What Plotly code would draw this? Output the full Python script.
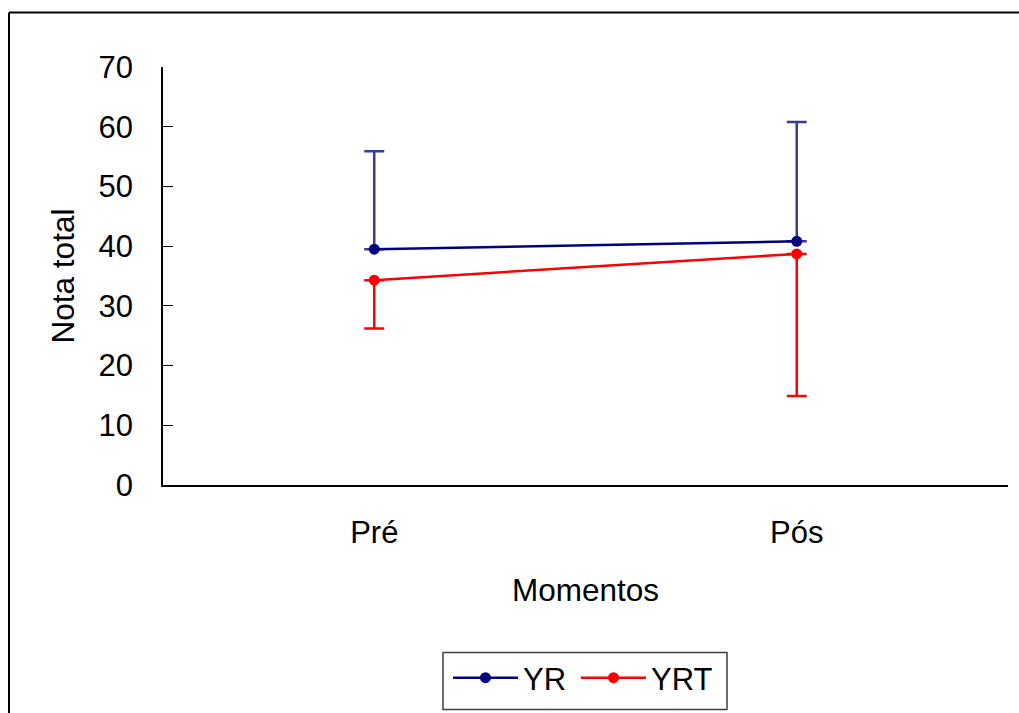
import plotly.graph_objects as go

# Data
momentos = ["Pré", "Pós"]
yr_mean = [39.5, 40.8]
yr_err_up = [16.4, 20.0]
yrt_mean = [34.3, 38.7]
yrt_err_down = [8.1, 23.8]
y_ticks = [0, 10, 20, 30, 40, 50, 60, 70]

FONT = "Liberation Sans, Arial, sans-serif"
FS = 31
FS_TITLE = 31.5

fig = go.Figure()

fig.add_trace(go.Scatter(
    x=momentos, y=yr_mean, name="YR", mode="lines+markers", legend="legend",
    line=dict(color="#000080", width=2.5),
    marker=dict(color="#000080", size=11),
    error_y=dict(type="data", array=yr_err_up, arrayminus=[0, 0], symmetric=False,
                 color="#3a3a9c", thickness=2.5, width=10),
))
fig.add_trace(go.Scatter(
    x=momentos, y=yrt_mean, name="YRT", mode="lines+markers", legend="legend2",
    line=dict(color="#FF0000", width=2.5),
    marker=dict(color="#FF0000", size=11),
    error_y=dict(type="data", array=[0, 0], arrayminus=yrt_err_down, symmetric=False,
                 color="#FF0000", thickness=2.5, width=10),
))

L, R, T, B = 163, 11, 67, 228
W, H = 1019, 713
pw, ph = W - L - R, H - T - B

def px(x):
    return (x - L) / pw

def py(y):
    return (H - B - y) / ph

# Outer chart frame (left and top edges)
frame = dict(type="line", xref="paper", yref="paper", line=dict(color="black", width=2))
fig.add_shape(**frame, x0=px(9), x1=px(1030), y0=py(12.5), y1=py(12.5))
fig.add_shape(**frame, x0=px(9), x1=px(9), y0=py(12.5), y1=py(730))

# Legend box outline
fig.add_shape(type="rect", xref="paper", yref="paper",
              x0=px(443), x1=px(727), y0=py(652.5), y1=py(709.5),
              line=dict(color="#404040", width=1.5), fillcolor="rgba(0,0,0,0)")

legend_style = dict(
    orientation="h", xanchor="left", y=py(678), yanchor="middle",
    borderwidth=0, bgcolor="rgba(0,0,0,0)", itemwidth=65,
    font=dict(size=FS),
)

fig.update_layout(
    width=W, height=H,
    margin=dict(l=L, r=R, t=T, b=B, autoexpand=False),
    paper_bgcolor="white", plot_bgcolor="white",
    font=dict(family=FONT, size=FS, color="black"),
    showlegend=True,
    legend=dict(x=px(448), **legend_style),
    legend2=dict(x=px(576), **legend_style),
    xaxis=dict(
        range=[-0.5, 1.5], showline=True, linecolor="black", linewidth=1.5,
        ticks="", showgrid=False, zeroline=False, ticklabelstandoff=19,
        automargin=False,
        title=dict(text="Momentos", standoff=30, font=dict(size=FS_TITLE)),
        tickfont=dict(size=FS),
    ),
    yaxis=dict(
        range=[0, 70], tickvals=y_ticks, showline=True, linecolor="black", linewidth=1.5,
        ticks="inside", ticklen=10, tickcolor="black", tickwidth=1,
        showgrid=False, zeroline=False, ticklabelstandoff=22, automargin=False,
        title=dict(text="Nota total", standoff=15, font=dict(size=FS_TITLE)),
        tickfont=dict(size=FS),
    ),
)

fig.write_html("out.html")
